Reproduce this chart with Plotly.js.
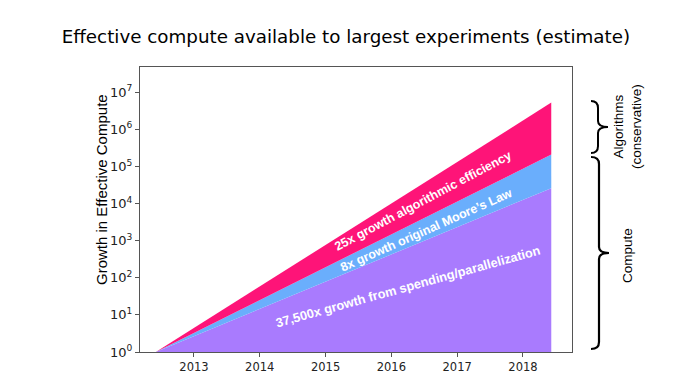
<!DOCTYPE html>
<html>
<head>
<meta charset="utf-8">
<script src="https://cdn.plot.ly/plotly-3.0.1.min.js"></script>
<style>html,body{margin:0;padding:0;background:#fff;}#chart{width:696px;height:388px;}</style>
</head>
<body>
<div id="chart"></div>
<script>
// Data
const years = [2012.42, 2018.43];
const baseline = [1, 1];
const computeTop = [1, 26000];      // spending/parallelization
const mooreTop = [1, 209000];       // + Moore's law
const algoTop = [1, 5250000];       // + algorithmic efficiency
const yTickVals = [1, 10, 100, 1000, 10000, 100000, 1000000, 10000000];
const yTickText = ['10<sup>0</sup>','10<sup>1</sup>','10<sup>2</sup>','10<sup>3</sup>','10<sup>4</sup>','10<sup>5</sup>','10<sup>6</sup>','10<sup>7</sup>'];
const xTickVals = [2013, 2014, 2015, 2016, 2017, 2018];
const labels = ['25x growth algorithmic efficiency', "8x growth original Moore’s Law", '37,500x growth from spending/parallelization'];

const colPurple = '#a97bfe', colBlue = '#6aaefc', colPink = '#fe1478';

const traces = [
  {x: years, y: baseline, mode: 'lines', line: {width: 0}, hoverinfo: 'skip', showlegend: false},
  {x: years, y: computeTop, mode: 'lines', line: {width: 0}, fill: 'tonexty', fillcolor: colPurple, showlegend: false},
  {x: years, y: mooreTop, mode: 'lines', line: {width: 0}, fill: 'tonexty', fillcolor: colBlue, showlegend: false},
  {x: years, y: algoTop, mode: 'lines', line: {width: 0}, fill: 'tonexty', fillcolor: colPink, showlegend: false}
];

// plot area in pixels
const L = 140, R = 572, T = 67, B = 352;
const px = X => (X - L) / (R - L);
const py = Y => (B - Y) / (B - T);
function brace(xe, xs, xt, y0, y1) {
  const ym = (y0 + y1) / 2;
  const p = (X, Y) => px(X).toFixed(4) + ',' + py(Y).toFixed(4);
  return 'M' + p(xe, y0) +
    ' Q' + p(xs, y0) + ' ' + p(xs, y0 + 7) +
    ' L' + p(xs, ym - 6) +
    ' Q' + p(xs, ym) + ' ' + p(xt, ym) +
    ' Q' + p(xs, ym) + ' ' + p(xs, ym + 6) +
    ' L' + p(xs, y1 - 7) +
    ' Q' + p(xs, y1) + ' ' + p(xe, y1);
}

const annFont = {family: 'Liberation Sans, Arial, sans-serif', size: 12.5, color: '#ffffff', weight: 'bold'};
const sideFont = {family: 'Liberation Sans, Arial, sans-serif', size: 13.5, color: '#000'};
const layout = {
  width: 696, height: 388,
  margin: {l: L, r: 696 - R, t: T, b: 388 - B},
  paper_bgcolor: '#fff', plot_bgcolor: '#fff',
  title: {text: 'Effective compute available to largest experiments (estimate)',
          font: {family: 'DejaVu Sans, sans-serif', size: 18.3, color: '#000'},
          x: 0.497, xanchor: 'center', y: 0.905, yanchor: 'middle'},
  xaxis: {range: [2012.18, 2018.745], tickvals: xTickVals, ticktext: xTickVals.map(String),
          showgrid: false, zeroline: false, showline: true, linecolor: '#555', linewidth: 1, mirror: true,
          ticks: 'outside', ticklen: 4, tickcolor: '#555',
          tickfont: {family: 'DejaVu Sans, sans-serif', size: 11.5, color: '#222'}},
  yaxis: {type: 'log', range: [0, 7.68], tickvals: yTickVals, ticktext: yTickText,
          showgrid: false, zeroline: false, showline: true, linecolor: '#555', linewidth: 1, mirror: true,
          ticks: 'outside', ticklen: 4, tickcolor: '#555',
          tickfont: {family: 'DejaVu Sans, sans-serif', size: 13, color: '#222'}},
  shapes: [
    {type: 'path', xref: 'paper', yref: 'paper', path: brace(591, 598, 608, 101, 153), line: {color: '#000', width: 2}},
    {type: 'path', xref: 'paper', yref: 'paper', path: brace(591, 599, 609, 157, 349), line: {color: '#000', width: 2.2}}
  ],
  annotations: [
    {x: 2016.48, y: 4.07, xref: 'x', yref: 'y', text: labels[0], showarrow: false, textangle: -28, font: annFont},
    {x: 2016.54, y: 3.28, xref: 'x', yref: 'y', text: labels[1], showarrow: false, textangle: -24, font: annFont},
    {x: 2016.25, y: 1.77, xref: 'x', yref: 'y', text: labels[2], showarrow: false, textangle: -15.5,
     font: Object.assign({}, annFont, {size: 12.8})},
    {x: px(101), y: py(190), xref: 'paper', yref: 'paper', xanchor: 'center', yanchor: 'middle',
     text: 'Growth in Effective Compute', showarrow: false, textangle: -90,
     font: {family: 'Liberation Sans, Arial, sans-serif', size: 15, color: '#000'}},
    {x: px(627), y: py(127), xref: 'paper', yref: 'paper', xanchor: 'center', yanchor: 'middle',
     text: 'Algorithms<br>(conservative)', showarrow: false, textangle: -90, font: sideFont},
    {x: px(627), y: py(256), xref: 'paper', yref: 'paper', xanchor: 'center', yanchor: 'middle',
     text: 'Compute', showarrow: false, textangle: -90, font: sideFont}
  ]
};

Plotly.newPlot('chart', traces, layout, {staticPlot: true, displayModeBar: false});
</script>
</body>
</html>
